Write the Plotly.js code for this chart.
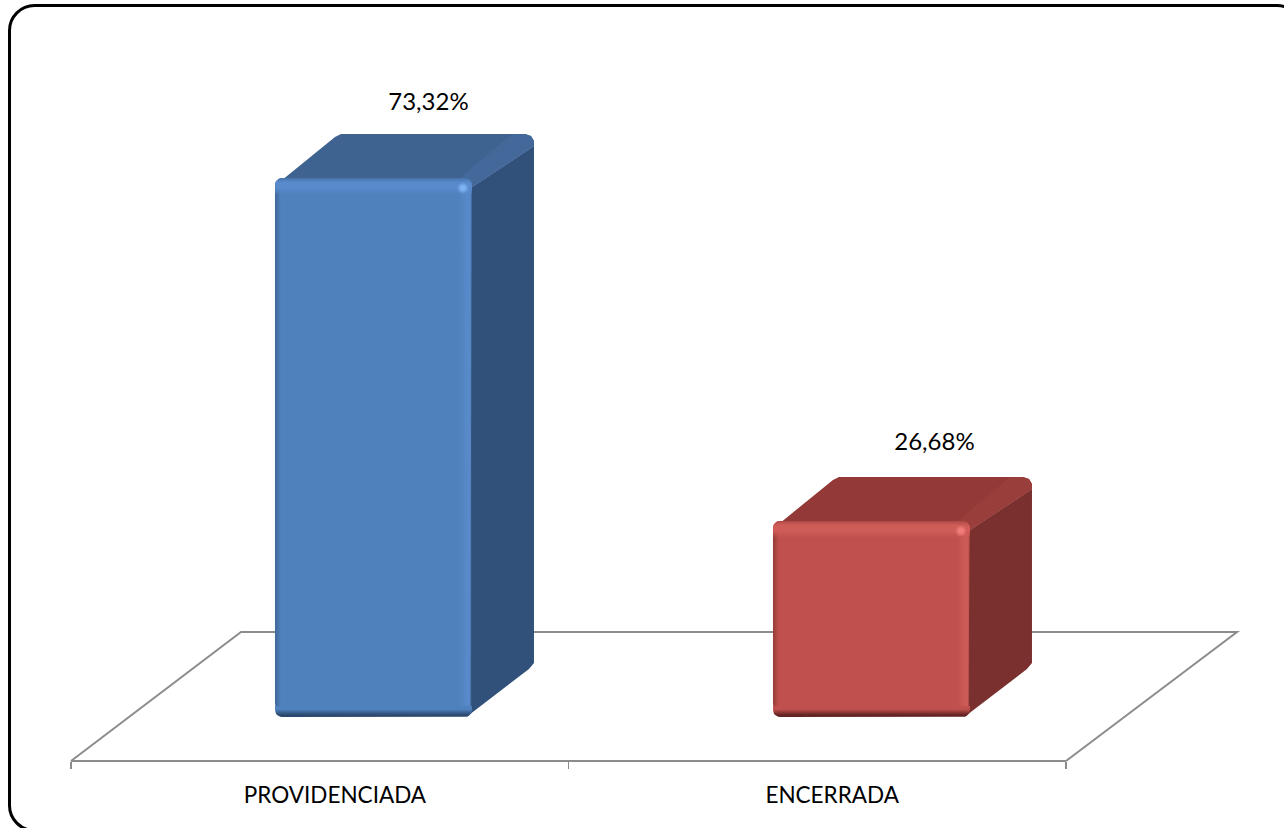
<!DOCTYPE html>
<html><head><meta charset="utf-8">
<script src="https://cdn.plot.ly/plotly-3.0.1.min.js"></script>
<style>html,body{margin:0;padding:0;background:#fff;overflow:hidden}#c{width:1284px;height:828px}</style>
</head><body><div id="c"></div>
<script>
// ---- data ----
const categories = ['PROVIDENCIADA', 'ENCERRADA'];
const values = [73.32, 26.68];
const valueLabels = ['73,32%', '26,68%'];
const barPositions = [0.608, 1.609];
const labelPositions = [0.5305, 1.53];
const axisTicks = [0, 1, 2];
// ---- colours per bar ----
const frontColors = ['#4f81bd', '#c0504d'];
const topEdgeColors = ['#4874ac', '#ad4845'];
const topColors = ['#3f6391', '#933937'];
const bandColors = ['#43699b', '#9a3e3b'];
const sideColors = ['#31517a', '#7a302e'];
const sideEdgeColors = ['#2a4569', '#662624'];
const lightColors = ['rgba(88,138,204,1)', 'rgba(208,92,88,1)'];
const lightSoft = ['rgba(92,142,208,0.7)', 'rgba(210,94,90,0.7)'];
const lightZero = ['rgba(88,138,204,0)', 'rgba(208,92,88,0)'];
const darkColors = ['rgba(44,72,110,1)', 'rgba(98,36,34,1)'];
const darkSoft = ['rgba(44,72,110,0.45)', 'rgba(98,36,34,0.45)'];
const darkZero = ['rgba(44,72,110,0)', 'rgba(98,36,34,0)'];
const glowColors = ['rgba(125,178,240,1)', 'rgba(240,125,120,1)'];
const glowZero = ['rgba(125,178,240,0)', 'rgba(240,125,120,0)'];

// ---- scale of the page ----
const W = 1284, H = 828;
const axisL = 71, axisR = 1066, axisY = 761;
const pxX = (axisR - axisL) / 2;     // pixels per x unit
const pxY = 7.35;                    // pixels per percent
const zeroY = 717;
const barPx = 197, R = 7;
const barW = barPx / pxX;
const yRange = [(zeroY - H) / pxY, zeroY / pxY];

// a point given in pixels from a bar's left edge and a value level (up is positive)
const pt = (i, level, px, up) => [barPositions[i] - barW / 2 + px / pxX, level + up / pxY];
function arc(i, level, cx, cy, a0, a1) {
  const o = [];
  for (let k = 0; k <= 6; k++) {
    const a = (a0 + (a1 - a0) * k / 6) * Math.PI / 180;
    o.push(pt(i, level, cx + R * Math.cos(a), cy + R * Math.sin(a)));
  }
  return o;
}
function poly(pts, style) {
  return Object.assign({
    type: 'scatter', mode: 'lines', x: pts.map(p => p[0]), y: pts.map(p => p[1]),
    line: {width: 0}, fill: 'toself', hoverinfo: 'skip', showlegend: false, cliponaxis: false
  }, style);
}
const grad = (type, stops) => ({fillgradient: {type, colorscale: stops}});

const traces = [];
// front faces: the real bars
traces.push({
  type: 'bar', x: barPositions, y: values.map(v => v - R / pxY), base: values.map(() => R / pxY),
  width: barW, marker: {color: frontColors, cornerradius: R, line: {width: 0}},
  hoverinfo: 'skip', showlegend: false, cliponaxis: false
});

values.forEach((v, i) => {
  // side face
  traces.push(poly([
    pt(i, v, barPx, -9), pt(i, v, barPx + 62, 32), pt(i, 0, barPx + 62, 54),
    pt(i, 0, barPx + 57, 48), pt(i, 0, barPx - 5, 0.5), pt(i, 0, barPx - 2, R)
  ], grad('horizontal', [[0, sideEdgeColors[i]], [0.06, sideColors[i]], [1, sideColors[i]]])));
  // top face
  traces.push(poly([
    pt(i, v, 1, -7), pt(i, v, 60, 41), pt(i, v, 66, 44), pt(i, v, barPx + 53, 44),
    pt(i, v, barPx + 59, 42), pt(i, v, barPx + 62, 37), pt(i, v, barPx + 62, 32),
    pt(i, v, barPx, -9), pt(i, v, barPx - 8, 0), pt(i, v, 8, 0)
  ], {fillcolor: topColors[i]}));
  // lighter band along the top face's right edge
  traces.push(poly([
    pt(i, v, barPx - 12, 0), pt(i, v, barPx + 40, 44), pt(i, v, barPx + 53, 44),
    pt(i, v, barPx + 59, 42), pt(i, v, barPx + 62, 37), pt(i, v, barPx + 62, 32), pt(i, v, barPx, -9)
  ], {fillcolor: bandColors[i]}));

  // bevels on the front face
  const top = v;
  traces.push(poly([  // right rim
    pt(i, 0, barPx - 14, R), pt(i, 0, barPx, R), pt(i, top, barPx, -R), pt(i, top, barPx - 14, -R)
  ], grad('horizontal', [[0, lightZero[i]], [0.65, lightSoft[i]], [0.88, lightSoft[i]], [1, darkSoft[i]]])));
  traces.push(poly([  // left rim
    pt(i, 0, 0, R), pt(i, 0, 6, R), pt(i, top, 6, -R), pt(i, top, 0, -R)
  ], grad('horizontal', [[0, darkSoft[i]], [1, darkZero[i]]])));
  traces.push(poly([  // bottom rim, opaque because the bar itself starts above it
    ...arc(i, 0, R, R, 180, 270), ...arc(i, 0, barPx - R, R, 270, 360),
    pt(i, 0, barPx, 11), pt(i, 0, 0, 11)
  ], grad('vertical', [[0, darkColors[i]], [0.18, darkColors[i]], [0.7, frontColors[i]], [1, frontColors[i]]])));
  traces.push(poly([  // top rim
    pt(i, top, 0, -17), ...arc(i, top, R, -R, 180, 90), ...arc(i, top, barPx - R, -R, 90, 0),
    pt(i, top, barPx, -17)
  ], grad('vertical', [[0, lightZero[i]], [0.42, lightColors[i]], [0.74, lightColors[i]], [1, topEdgeColors[i]]])));
  const glow = [];
  for (let a = 0; a < 360; a += 30) {
    const r = a * Math.PI / 180;
    glow.push(pt(i, top, barPx - 9 + 6 * Math.cos(r), -10 + 6 * Math.sin(r)));
  }
  traces.push(poly(glow, {fillgradient: {type: 'radial', colorscale: [[0, glowColors[i]], [0.35, glowColors[i]], [1, glowZero[i]]]}}));
});

// value labels
traces.push({
  type: 'scatter', mode: 'text',
  x: barPositions.map((p, i) => p + [55, 63][i] / pxX),
  y: values.map((v, i) => v + [74, 77][i] / pxY),
  text: valueLabels, textposition: 'middle center',
  textfont: {family: 'Lato, "Open Sans", sans-serif', size: 24, color: '#000'},
  hoverinfo: 'skip', showlegend: false, cliponaxis: false
});

const px = (x, y) => (x / W).toFixed(5) + ',' + (1 - y / H).toFixed(5);
function border(L, T, Rt, B, r) {
  const k = r * 0.45;
  return `M ${px(L + r, T)} L ${px(Rt - r, T)} C ${px(Rt - k, T)} ${px(Rt, T + k)} ${px(Rt, T + r)}` +
    ` L ${px(Rt, B - r)} C ${px(Rt, B - k)} ${px(Rt - k, B)} ${px(Rt - r, B)}` +
    ` L ${px(L + r, B)} C ${px(L + k, B)} ${px(L, B - k)} ${px(L, B - r)}` +
    ` L ${px(L, T + r)} C ${px(L, T + k)} ${px(L + k, T)} ${px(L + r, T)} Z`;
}

const layout = {
  width: W, height: H, margin: {l: 0, r: 0, t: 0, b: 0},
  paper_bgcolor: '#fff', plot_bgcolor: 'rgba(0,0,0,0)', showlegend: false, hovermode: false,
  barmode: 'overlay', dragmode: false,
  xaxis: {
    domain: [axisL / W, axisR / W], range: [0, 2], anchor: 'free', position: 1 - axisY / H,
    showline: true, linecolor: '#8c8c8c', linewidth: 2, showgrid: false, zeroline: false,
    tickmode: 'array', tickvals: labelPositions, ticktext: categories, ticks: '',
    ticklabelstandoff: 14,
    tickfont: {family: 'Lato, "Open Sans", sans-serif', size: 22.5, color: '#000'},
    minor: {tickmode: 'array', tickvals: axisTicks, ticks: 'outside', ticklen: 7, tickwidth: 1.5, tickcolor: '#8c8c8c', showgrid: false}
  },
  yaxis: {domain: [0, 1], range: yRange, visible: false, fixedrange: true},
  shapes: [
    {type: 'path', xref: 'paper', yref: 'paper', layer: 'below',
     path: `M ${px(axisL, axisY)} L ${px(241, 632)} L ${px(1237, 632)} L ${px(axisR, axisY)}`,
     line: {color: '#8c8c8c', width: 2}},
    {type: 'path', xref: 'paper', yref: 'paper', layer: 'above',
     path: border(9.5, 5.5, 1302, 830.5, 25), line: {color: '#000', width: 3}}
  ]
};
Plotly.newPlot('c', traces, layout, {displayModeBar: false, staticPlot: true});
</script>
</body></html>
